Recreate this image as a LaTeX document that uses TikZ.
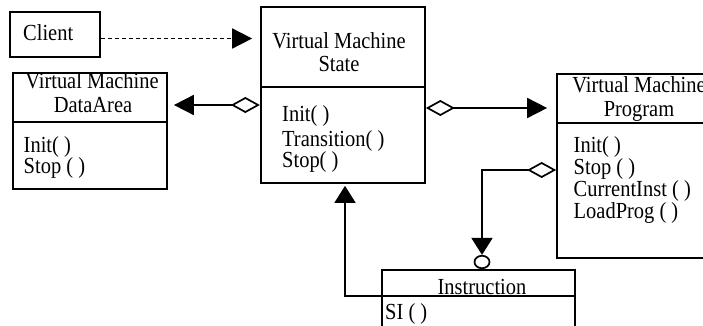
\documentclass[tikz,border=0pt]{standalone}
\usepackage{fontspec}
\newfontfamily\vmf[FakeStretch=0.89]{Liberation Serif}
\usetikzlibrary{arrows.meta,shapes.geometric,calc}
\begin{document}
\begin{tikzpicture}[x=1pt,y=-1pt,
  box/.style={draw, line width=1.7pt, rectangle, inner sep=0pt},
  conn/.style={line width=1.7pt},
  lbl/.style={inner sep=0pt, font=\vmf\fontsize{23}{25}\selectfont},
  dashline/.style={dash pattern=on 4.5pt off 2.5pt},
  ftri/.tip={Triangle[length=20pt,width=20pt]},
  itri/.tip={Triangle[length=17pt,width=21pt]},
  odia/.tip={Diamond[open,length=29pt,width=16pt]}]
\useasboundingbox (0,0) rectangle (703,326);
\clip (0,0) rectangle (703,326);
% boxes
\node[box, minimum width=90pt, minimum height=45pt] (client) at (55,34.5) {};
\node[box, minimum width=164.3pt, minimum height=176pt] (vms) at (342.85,95) {};
\node[box, minimum width=154.3pt, minimum height=116pt] (da) at (89.85,131) {};
\node[box, minimum width=164pt, minimum height=184pt] (vmp) at (639,166) {};
\node[box, minimum width=193pt, minimum height=70pt] (ins) at (478.5,305) {};
\node[draw, line width=1.7pt, ellipse, inner sep=0pt, minimum width=15pt, minimum height=12.5pt] (ring) at (482,262) {};
% dividers
\draw[conn] ($(vms.north west)+(0,81)$) -- +(166.3,0);
\draw[conn] ($(da.north west)+(0,50)$) -- +(156.3,0);
\draw[conn] ($(vmp.north west)+(0,50)$) -- +(166,0);
\draw[conn] ($(ins.north west)+(0,27)$) -- +(195,0);
% texts
\node[lbl, anchor=base west] (tclient) at (23,40.7) {Client};
\node[lbl, anchor=base] (tvms1) at (339,48.5) {Virtual Machine};
\node[lbl, anchor=base] (tvms2) at (339,72) {State};
\node[lbl, anchor=base west] (mvms1) at (282,121.5) {Init( )};
\node[lbl, anchor=base west] (mvms2) at (282,146) {Transition( )};
\node[lbl, anchor=base west] (mvms3) at (282,167) {Stop( )};
\node[lbl, anchor=base] (tda1) at (92,89) {Virtual Machine};
\node[lbl, anchor=base] (tda2) at (93,113) {DataArea};
\node[lbl, anchor=base west] (mda1) at (23.5,152) {Init( )};
\node[lbl, anchor=base west] (mda2) at (23.5,173.5) {Stop ( )};
\node[lbl, anchor=base] (tvmp1) at (639,93) {Virtual Machine};
\node[lbl, anchor=base] (tvmp2) at (639,116.5) {Program};
\node[lbl, anchor=base west] (mvmp1) at (573.5,152) {Init( )};
\node[lbl, anchor=base west] (mvmp2) at (573.5,174) {Stop ( )};
\node[lbl, anchor=base west] (mvmp3) at (573.5,196) {CurrentInst ( )};
\node[lbl, anchor=base west] (mvmp4) at (573.5,218) {LoadProg ( )};
\node[lbl, anchor=base] (tins) at (482,294) {Instruction};
\node[lbl, anchor=base west] (mins1) at (385,319) {SI ( )};
% helper coordinates
\coordinate (yc) at (0,38.5);
\coordinate (ya) at (0,105);
\coordinate (yb) at (0,108);
\coordinate (yi) at (0,170);
\coordinate (k) at (345,296);
% connectors
\draw[conn, dashline, -ftri, shorten >=7.7pt] (client.east |- yc) -- (vms.west |- yc);
\draw[conn, ftri-odia, shorten <=6pt] (da.east |- ya) -- (vms.west |- ya);
\draw[conn, odia-ftri, shorten >=9pt] (vms.east |- yb) -- (vmp.west |- yb);
\draw[conn, odia-itri] (vmp.west |- yi) -| (ring.north);
\draw[conn, -itri, shorten >=2pt] (ins.west |- k) -- (k) -- (k |- vms.south);
\end{tikzpicture}
\end{document}
